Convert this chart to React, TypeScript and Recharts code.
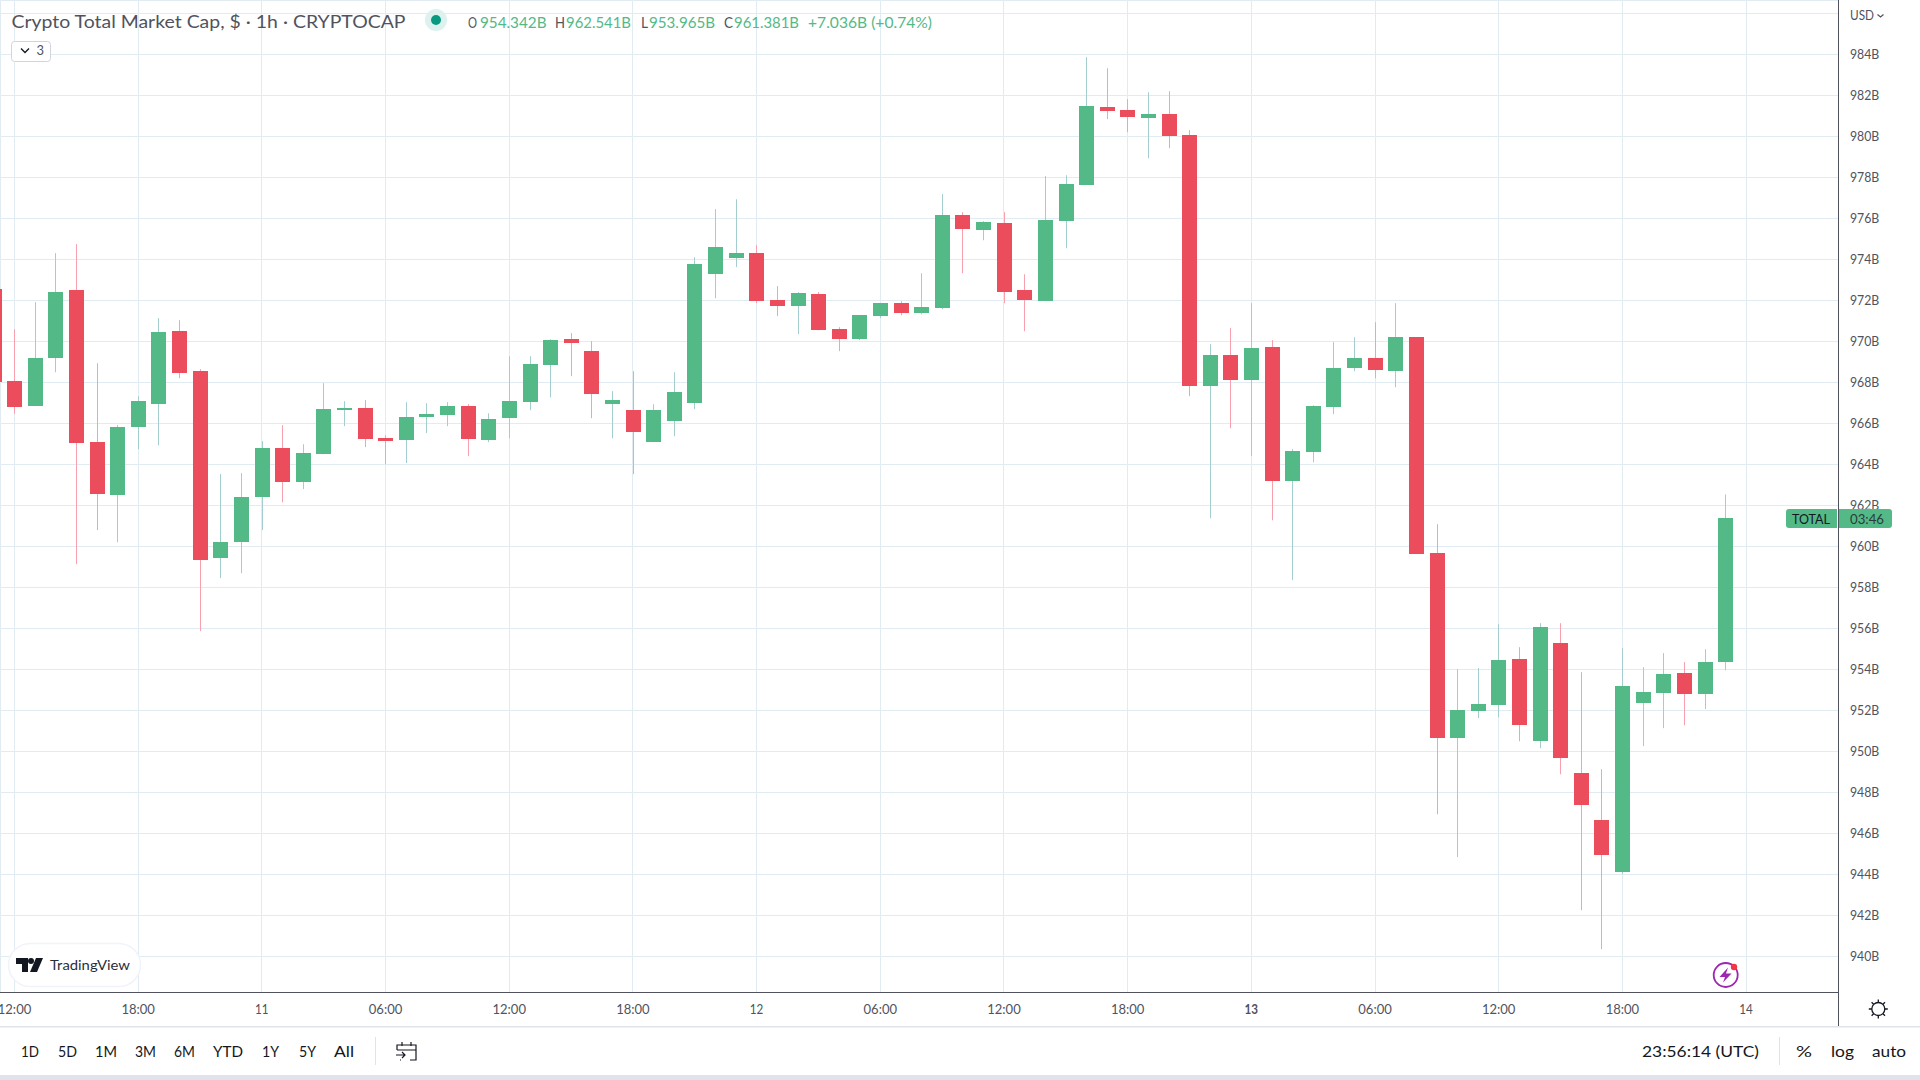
import React from "react";
import { ComposedChart, Bar, XAxis, YAxis, CartesianGrid } from "recharts";

const hours = [-1,0,1,2,3,4,5,6,7,8,9,10,11,12,13,14,15,16,17,18,19,20,21,22,23,24,25,26,27,28,29,30,31,32,33,34,35,36,37,38,39,40,41,42,43,44,45,46,47,48,49,50,51,52,53,54,55,56,57,58,59,60,61,62,63,64,65,66,67,68,69,70,71,72,73,74,75,76,77,78,79,80,81,82,83];
const opens = [972.55,968.07,966.85,969.19,972.5,965.09,962.5,965.82,966.94,970.5,968.55,959.43,960.21,962.41,964.8,963.14,964.5,966.65,966.75,965.28,965.19,966.31,966.41,966.85,965.19,966.26,967.04,968.85,970.11,969.53,966.94,966.65,965.09,966.11,966.99,973.28,974.07,974.31,972.02,971.72,972.31,970.6,970.11,971.24,971.87,971.38,971.63,976.16,975.43,975.77,972.5,971.97,975.87,977.63,981.43,981.28,980.89,981.09,980.07,967.82,969.33,968.11,969.72,963.19,964.6,966.8,968.7,969.19,968.55,970.21,959.67,950.65,951.97,952.26,954.5,950.5,955.28,948.94,946.65,944.11,952.36,952.85,953.82,952.8,954.342];
const highs = [973,970.6,971.92,974.31,974.75,968.94,965.92,967.33,971.14,971.04,968.65,963.53,963.58,965.14,965.92,964.99,967.97,967.09,967.14,965.43,967.04,966.99,967.04,966.94,966.5,969.28,969.28,970.11,970.41,970.02,967.58,968.55,966.94,968.5,974.11,976.46,976.94,974.7,972.7,972.41,972.41,970.7,971.28,971.87,971.97,973.33,977.19,976.31,975.87,976.31,973.28,978.07,978.11,983.87,983.33,981.82,982.16,982.21,980.31,969.87,970.65,971.87,970.07,964.75,966.89,969.97,970.21,970.94,971.87,970.21,961.09,954.02,954.07,956.21,955.09,956.26,956.26,953.87,949.14,955.04,954.11,954.8,954.36,954.99,962.541];
const lows = [967,966.47,966.85,968.5,959.14,960.8,960.21,964.75,964.94,968.21,955.87,958.46,958.7,960.8,962.16,962.8,964.5,965.87,964.85,964.02,964.07,965.53,965.87,964.41,965.09,965.28,966.65,967.28,968.31,966.26,965.28,963.53,965.09,965.38,966.7,972.11,973.63,971.87,971.24,970.36,970.55,969.53,970.07,971.14,971.28,971.33,971.58,973.33,974.94,971.87,970.5,971.97,974.55,977.63,980.85,980.21,978.94,979.43,967.33,961.38,965.77,964.41,961.28,958.36,964.11,966.46,968.55,968.21,967.77,959.63,946.94,944.85,951.63,951.67,950.5,950.16,948.89,942.26,940.36,944.02,950.26,951.14,951.28,952.07,953.965];
const closes = [968,966.8,969.19,972.41,965.04,962.55,965.82,967.09,970.46,968.46,959.33,960.21,962.41,964.8,963.14,964.55,966.7,966.75,965.24,965.14,966.31,966.46,966.85,965.24,966.21,967.09,968.89,970.07,969.92,967.43,967.14,965.58,966.65,967.53,973.77,974.6,974.31,971.97,971.72,972.36,970.55,970.11,971.28,971.87,971.38,971.67,976.16,975.48,975.82,972.41,972.02,975.92,977.67,981.48,981.24,980.94,981.09,980.02,967.82,969.33,968.11,969.67,963.19,964.65,966.85,968.7,969.19,968.6,970.21,959.63,950.65,952.02,952.31,954.46,951.28,956.07,949.67,947.38,944.94,953.19,952.89,953.77,952.8,954.36,961.381];

const xTicks = [0,6,12,18,24,30,36,42,48,54,60,66,72,78,84];
const xLabels = ["12:00","18:00","11","06:00","12:00","18:00","12","06:00","12:00","18:00","13","06:00","12:00","18:00","14"];
const yTicks = [986,984,982,980,978,976,974,972,970,968,966,964,962,960,958,956,954,952,950,948,946,944,942,940];
const periods = ["1D","5D","1M","3M","6M","YTD","1Y","5Y","All"];
const periodLeft = [21,58,95,135,174,213,262,299,334];
const periodWidth = [18,19,22,21,21,30,17,17,20];

const rows = hours.map((h, i) => ({ h, open: opens[i], close: closes[i], range: [lows[i], highs[i]] }));

const UP = "#53B987", DOWN = "#EB4D5C", UPWICK = "#A3CDCF", DOWNWICK = "#F8A0AE", GRID = "#E1ECF2", AXIS = "#50535E", FONT = "Lato, 'Open Sans', sans-serif";

const Candle = (props: any) => {
  const { x, y, width, height, payload } = props;
  const [lo, hi] = payload.range;
  const px = height / (hi - lo || 1);
  const cx = Math.floor(x + width / 2);
  const up = payload.close >= payload.open;
  const top = Math.round(y + (hi - Math.max(payload.open, payload.close)) * px);
  const bottom = Math.round(y + (hi - Math.min(payload.open, payload.close)) * px);
  return (
    <g>
      <rect x={cx} y={y} width={1} height={height} fill={up ? UPWICK : DOWNWICK} />
      <rect x={cx - 7} y={top} width={15} height={Math.max(bottom - top, 1)} fill={up ? UP : DOWN} />
    </g>
  );
};

const GridV = (p: any) => { const x = Math.floor(p.x1) + 0.5; return <line x1={x} x2={x} y1={p.y1} y2={p.y2} stroke={GRID} strokeWidth={1} />; };
const GridH = (p: any) => { const y = Math.floor(p.y1) + 0.5; return <line x1={p.x1} x2={p.x2} y1={y} y2={y} stroke={GRID} strokeWidth={1} />; };

const T = ({ x, y, w, size = 15, color = "#131722", weight = 400, anchor = "start", children }: any) => (
  <text x={x} y={y} textLength={w} lengthAdjust="spacingAndGlyphs" fontSize={size} fill={color} fontWeight={weight}
    fontFamily={FONT} textAnchor={anchor} dominantBaseline="central">{children}</text>
);

const XTick = (p: any) => {
  const i = xTicks.indexOf(p.payload.value);
  const label = xLabels[i];
  const date = label.length === 2;
  return <T x={p.x} y={1008.5} w={date ? 13.5 : 33.5} size={14} color={AXIS} anchor="middle" weight={label === "13" ? 700 : 400}>{label}</T>;
};
const YTick = (p: any) => {
  if (p.payload.value >= 986) return <g />;
  return <T x={1850} y={p.y - 1} w={29.3} size={14} color={AXIS}>{`${p.payload.value}B`}</T>;
};

const Overlay = () => (
  <svg width={1920} height={1080} style={{ position: "absolute", left: 0, top: 0, pointerEvents: "none" }}>
    {/* legend */}
    <T x={11.5} y={21.5} w={394} size={17} color="#50535E">Crypto Total Market Cap, $ · 1h · CRYPTOCAP</T>
    <circle cx={436} cy={20} r={11} fill="#DDF1EE" />
    <circle cx={436} cy={20} r={5} fill="#089981" />
    <T x={468} y={22} w={9} size={15} color={AXIS}>O</T>
    <T x={480} y={22} w={66.5} size={15} color={UP}>954.342B</T>
    <T x={555} y={22} w={10} size={15} color={AXIS}>H</T>
    <T x={566} y={22} w={65} size={15} color={UP}>962.541B</T>
    <T x={641} y={22} w={7} size={15} color={AXIS}>L</T>
    <T x={649} y={22} w={66} size={15} color={UP}>953.965B</T>
    <T x={724} y={22} w={9} size={15} color={AXIS}>C</T>
    <T x={734} y={22} w={65} size={15} color={UP}>961.381B</T>
    <T x={808} y={22} w={124} size={15} color={UP}>+7.036B (+0.74%)</T>
    <rect x={11.5} y={41.5} width={39} height={20} rx={3} fill="#fff" stroke="#D1D4DC" />
    <path d="M21 48.5 L25 52.5 L29 48.5" fill="none" stroke="#131722" strokeWidth={1.3} />
    <T x={36.5} y={49.5} w={7.5} size={14} color={AXIS}>3</T>
    <T x={1850} y={15} w={24} size={13} color={AXIS}>USD</T>
    <path d="M1877.5 14.5 L1880.5 17 L1883.5 14.5" fill="none" stroke={AXIS} strokeWidth={1.2} />

    {/* price badge */}
    <path d="M1789 509 H1837 V528 H1789 a3 3 0 0 1 -3 -3 V512 a3 3 0 0 1 3 -3Z" fill={UP} />
    <path d="M1839 509 H1889 a3 3 0 0 1 3 3 V525 a3 3 0 0 1 -3 3 H1839Z" fill={UP} />
    <T x={1792} y={518} w={38} size={14} color="#131722">TOTAL</T>
    <T x={1850} y={518} w={34} size={14} color="#2A3B3A">03:46</T>

    {/* axis column and separators */}
    <line x1={1838.5} x2={1838.5} y1={992} y2={1026} stroke={AXIS} />
    <rect x={0} y={1026} width={1920} height={1.5} fill="#E0E3EB" />
    <rect x={0} y={1075} width={1920} height={5} fill="#E0E3EB" />
    <g fill="none" stroke="#131722" strokeWidth={1.3}>
      <circle cx={1878.3} cy={1009} r={6.5} />
      <path d="M1878.3 999.5v3M1878.3 1015.5v3M1868.8 1009h3M1884.8 1009h3M1871.6 1002.3l2 2M1883 1013.7l2 2M1871.6 1015.7l2-2M1883 1004.3l2-2" />
    </g>

    {/* TradingView */}
    <rect x={8.5} y={943.5} width={132} height={43} rx={21.5} fill="#fff" stroke="#F0F3FA" strokeWidth={1.5} />
    <g fill="#131722">
      <path d="M16 958h12v14h-6v-8h-6z" />
      <circle cx={31} cy={961} r={3} />
      <path d="M36 958h7l-6 14h-7z" />
    </g>
    <T x={50} y={964} w={80} size={14} color="#2A2E39">TradingView</T>

    {/* lightning */}
    <circle cx={1725.7} cy={975} r={12} fill="#fff" stroke="#9C27B0" strokeWidth={1.8} />
    <path d="M1728 967.5 L1719.5 977 H1725 L1723 982.5 L1731.5 973.5 H1726 Z" fill="#9C27B0" />
    <circle cx={1734} cy={967} r={3.2} fill="#F23645" />

    {/* toolbar */}
    {periods.map((p, i) => <T key={p} x={periodLeft[i]} y={1050} w={periodWidth[i]} size={16}>{p}</T>)}
    <rect x={375} y={1037} width={1} height={28} fill="#E0E3EB" />
    <g fill="none" stroke="#131722" strokeWidth={1.2}>
      <path d="M401 1060h-1M410 1060h6v-15h-19v5M397 1050h19M402 1042v4M411 1042v4" />
      <path d="M396 1055h9M402 1052l3 3-3 3" />
    </g>
    <T x={1642} y={1050} w={117} size={16}>23:56:14 (UTC)</T>
    <rect x={1779} y={1037} width={1} height={28} fill="#E0E3EB" />
    <T x={1796} y={1050} w={16} size={16}>%</T>
    <T x={1831} y={1050} w={23} size={16}>log</T>
    <T x={1872} y={1050} w={34} size={16}>auto</T>
  </svg>
);

export default function App() {
  return (
    <div style={{ position: "fixed", left: 0, top: 0, width: 1920, height: 1080, background: "#fff", overflow: "hidden" }}>
      <ComposedChart width={1920} height={1080} data={rows} margin={{ top: 0, right: 0, left: 0, bottom: 54 }}>
        <CartesianGrid horizontal={GridH} vertical={GridV} />
        <XAxis dataKey="h" type="number" scale="linear" domain={[-0.7034, 88.484]} allowDataOverflow
          ticks={xTicks} interval={0} height={33.5} tick={XTick} tickLine={false} axisLine={{ stroke: AXIS }} />
        <YAxis orientation="right" type="number" domain={[938.2439, 986.6585]} ticks={yTicks} interval={0} width={81.5}
          tick={YTick} tickLine={false} axisLine={{ stroke: AXIS }} allowDataOverflow />
        <Bar dataKey="range" barSize={15} shape={Candle} isAnimationActive={false} />
      </ComposedChart>
      <Overlay />
    </div>
  );
}
